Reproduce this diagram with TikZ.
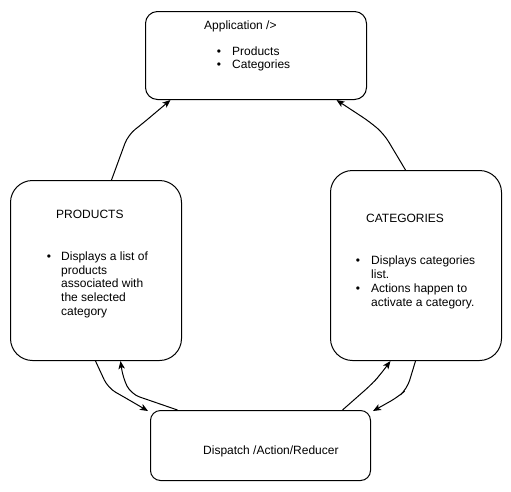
\documentclass[tikz,border=0pt]{standalone}
\usepackage{fontspec}
\setmainfont{Liberation Sans}
\usetikzlibrary{arrows.meta}
\begin{document}
\begin{tikzpicture}[x=1pt,y=-1pt,
  box/.style={draw=black,line width=1pt,fill=white,inner sep=0pt,anchor=north west},
  lbl/.style={inner sep=0pt,anchor=base west,font=\fontsize{12}{14}\selectfont},
  bul/.style={inner sep=0pt,anchor=base,font=\fontsize{12}{14}\selectfont},
  item/.style={inner sep=0pt,anchor=north west,align=left,font=\fontsize{12}{13.7}\selectfont},
  conn/.style={draw=black,line width=1pt,rounded corners=9pt,-{Stealth[length=8pt,width=6.5pt,inset=2pt]}}]
\useasboundingbox (0,0) rectangle (511,491);
\fill[white] (0,0) rectangle (511,491);
% boxes
\node[box,rounded corners=12pt,minimum width=221pt,minimum height=88pt] (app) at (145,11) {};
\node[box,rounded corners=22pt,minimum width=171pt,minimum height=180pt] (prod) at (10,180) {};
\node[box,rounded corners=22pt,minimum width=171pt,minimum height=190pt] (cat) at (330,170) {};
\node[box,rounded corners=10pt,minimum width=220pt,minimum height=70pt] (disp) at (150,410) {};
% texts
\node[lbl] (apptitle) at (204,29.3) {Application />};
\node[bul] (ab1) at (219,55.3) {\textbullet};
\node[lbl] (ai1) at (232,55.3) {Products};
\node[bul] (ab2) at (219,68.6) {\textbullet};
\node[lbl] (ai2) at (232,68.6) {Categories};
\node[lbl] (prodtitle) at (56,218.3) {PRODUCTS};
\node[bul] (pb1) at (49,260.3) {\textbullet};
\node[item] (pi1) at (61,251.6) {Displays a list of\\products\\associated with\\the selected\\category};
\node[lbl] (cattitle) at (366,222.3) {CATEGORIES};
\node[bul] (cb1) at (358,264.3) {\textbullet};
\node[item] (ci1) at (371,255.6) {Displays categories\\list.};
\node[bul] (cb2) at (358,292.3) {\textbullet};
\node[item] (ci2) at (371,283.6) {Actions happen to\\activate a category.};
\node[lbl] (disptitle) at (203,454.3) {Dispatch /Action/Reducer};
% connectors
\draw[conn] ([xshift=15.5pt]prod.north) -- (128,135) -- (142,124) -- ([xshift=-85.5pt]app.south);
\draw[conn] ([xshift=-10.5pt]cat.north) -- (384,134) -- (370,122) -- ([xshift=80.5pt]app.south);
\draw[conn] ([xshift=-0.5pt]prod.south) -- (108,388) -- (124,397) -- ([shift={(-2pt,-1pt)}]disp.north west);
\draw[conn] ([xshift=-83pt]disp.north) -- (131,394) -- (123,378) -- ([xshift=24.5pt]prod.south);
\draw[conn] ([xshift=82pt]disp.north) -- (372,384) -- (380,375) -- ([xshift=-25.5pt]cat.south);
\draw[conn] ([xshift=-0.5pt]cat.south) -- (407,389) -- (398,397) -- ([shift={(2pt,-1pt)}]disp.north east);
\end{tikzpicture}
\end{document}
